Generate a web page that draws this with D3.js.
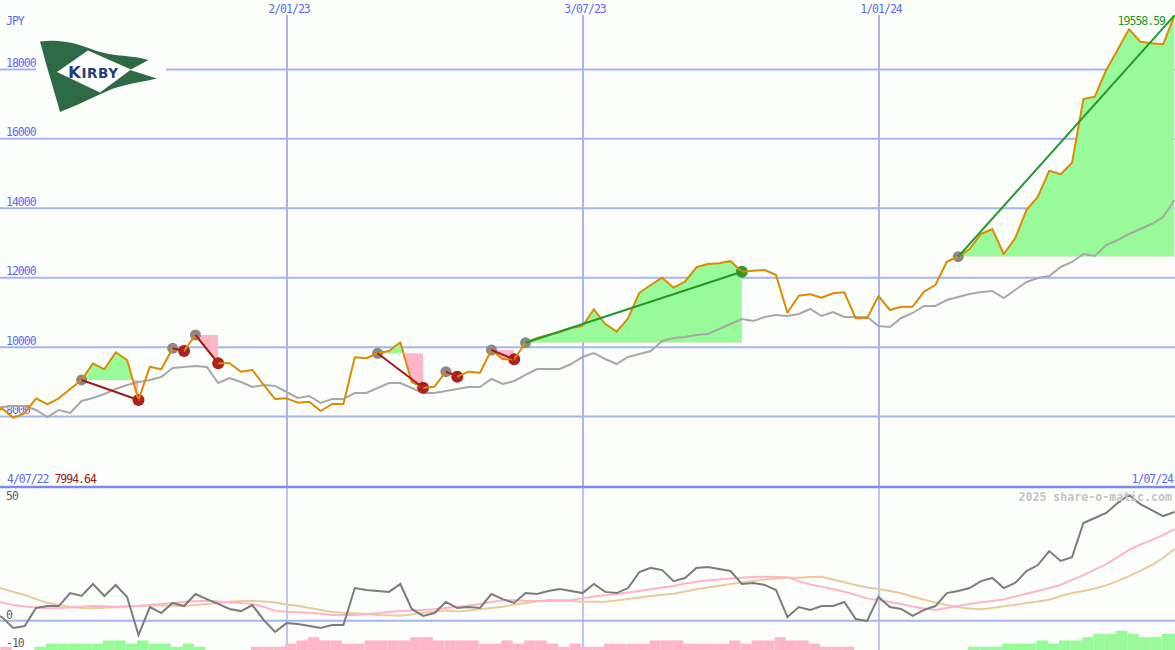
<!DOCTYPE html>
<html><head><meta charset="utf-8">
<script src="https://cdn.jsdelivr.net/npm/d3@7"></script>
<style>html,body{margin:0;padding:0;background:#fcfefc;} svg{display:block;} text{font-family:"DejaVu Sans Mono",monospace;}</style>
</head><body><svg id="c" width="1175" height="650"></svg>
<script>
// ---------- DATA ----------
const startDate = [2022, 6, 4];           // 4/07/22, weekly series
const endDate = [2024, 6, 1];             // 1/07/24
const priceValues = [7994.64,8238,7967,8094,8526,8354,8526,8794,9054,9535,
 9362,9852,9630,8477,9437,9362,9967,9889,10350,9947,
 9535,9535,9293,9342,8910,8506,8526,8400,8428,8161,
 8362,8362,9707,9679,9823,9889,10140,8996,8832,8861,
 9293,9149,9293,9264,9918,9650,9650,10128,10263,10350,
 10436,10552,10609,11090,10667,10445,10831,11568,11790,12001,
 11712,11885,12300,12395,12415,12482,12173,12202,12222,12078,
 10992,11482,11522,11424,11551,11580,10831,10831,11473,11070,
 11165,11165,11597,11790,12461,12605,12827,13259,13403,12683,
 13135,13951,14334,15083,14979,15313,17148,17215,17984,18560,
 19156,18799,18753,18724,19558.59];
const maValues = [8247,8276,8305,8305,8189,7988,8189,8103,8449,8535,
 8650,8794,8910,8996,9054,9140,9399,9428,9457,9428,
 8967,9111,8996,8852,8910,8881,8708,8535,8593,8391,
 8506,8506,8679,8679,8823,8967,8967,8823,8679,8679,
 8737,8794,8852,8852,9082,8938,9025,9198,9370,9370,
 9370,9514,9716,9831,9658,9514,9716,9803,9889,10177,
 10263,10292,10350,10379,10523,10667,10811,10753,10868,10926,
 10897,10955,11099,10897,11012,10868,10868,10868,10609,10580,
 10840,10984,11185,11185,11358,11445,11531,11589,11617,11416,
 11646,11877,11992,12049,12309,12453,12683,12626,12942,13087,
 13259,13403,13547,13749,14239];
const momValues = [3.6,1.5,-3.0,-2.2,5.3,6.1,6.1,11.5,10.3,15.3,
 10.3,14.9,9.9,-6.0,5.7,3.2,7.4,6.1,11.1,9.0,
 7.0,4.9,4.0,6.5,0.3,-4.7,-1.0,-1.4,-2.2,-3.0,
 -1.8,-1.8,13.6,12.8,12.4,12.0,15.3,4.9,2.0,3.2,
 7.8,5.3,5.7,5.3,11.1,9.0,7.4,11.5,11.1,12.4,
 13.2,12.4,11.5,15.3,12.0,11.5,13.6,20.3,22.0,21.1,
 16.5,17.8,22.0,22.4,21.5,20.7,15.3,15.7,14.9,12.8,
 1.5,5.7,4.5,6.1,6.1,7.8,0.7,-0.1,9.9,5.7,
 4.9,2.0,4.5,6.1,11.5,12.4,13.6,16.5,17.8,13.6,
 15.7,20.7,23.2,29.0,24.9,26.5,40.7,42.8,44.9,49.0,
 52.4,48.6,46.1,43.6,45.3];
const pinkValues = [8.2,7.6,6.5,5.9,5.5,5.2,5.3,5.5,5.8,6.1,
 6.0,5.8,6.0,6.1,6.5,7.0,7.4,7.9,8.1,8.3,
 8.0,7.6,7.4,7.0,5.7,4.2,3.7,3.5,3.3,2.9,
 2.4,2.4,2.4,2.7,3.1,3.6,4.0,4.3,4.5,4.75,
 5.3,5.8,6.3,7.0,7.8,8.5,8.5,8.3,8.2,8.2,
 8.4,8.6,9.3,10.1,10.6,11.1,11.75,12.4,13.1,13.8,
 14.5,15.5,16.2,16.8,17.2,17.6,17.9,18.2,18.3,18.2,
 18.1,16.5,15.1,14.2,13.2,12.1,10.7,9.3,8.5,7.8,
 7.0,5.9,5.1,4.5,5.3,6.1,7.0,7.7,8.2,8.8,
 10.1,11.25,12.4,13.6,14.9,17.0,19.0,21.3,23.6,26.5,
 29.5,31.75,33.6,35.7,38.2];
const tanValues = [14.9,13.4,12.0,10.7,9.0,7.5,6.5,5.7,5.3,5.2,
 5.4,5.6,5.8,6.1,6.3,6.4,6.25,6.1,6.5,7.0,
 7.4,7.9,8.2,8.3,8.0,7.6,6.75,6.25,5.3,4.5,
 3.6,3.3,3.1,2.8,2.4,2.25,2.1,2.6,3.3,3.75,
 4.2,3.8,4.25,4.75,5.3,5.8,6.7,7.4,8.0,8.6,
 8.4,8.2,7.9,7.9,7.9,8.4,9.0,9.7,10.3,10.8,
 11.25,12.2,13.1,13.8,14.6,15.3,15.9,16.5,17.2,17.6,
 17.9,17.9,18.2,18.3,17.2,16.0,14.9,13.8,13.2,12.4,
 11.4,10.1,8.75,7.6,6.5,5.6,5.1,4.75,5.3,6.0,
 6.6,7.4,8.0,8.75,10.3,11.5,12.4,13.4,14.7,16.5,
 18.6,20.9,23.2,26.1,29.9];
const histLevels = [-1,-1,0,0,1,2,2,2,2,2,
 3,3,2,3,2,2,1,2,1,0,
 0,0,0,-1,-1,-1,-2,-3,-4,-3,
 -3,-2,-2,-3,-3,-3,-3,-4,-4,-3,
 -3,-3,-3,-2,-2,-3,-2,-3,-3,-2,
 -1,-2,-1,-1,-2,-2,-2,-2,-3,-3,
 -3,-2,-2,-2,-2,-3,-2,-3,-3,-4,
 -3,-3,-2,-1,-1,-1,0,0,0,0,
 0,0,0,0,0,0,1,1,1,2,
 2,2,3,2,3,3,4,5,5,6,
 5,4,4,5,5];
const priceTicks = [8000,10000,12000,14000,16000,18000];
const momTicks = [50,0,-10];
const gridDates = [[2023,0,2],[2023,6,3],[2024,0,1]];
const gridLabels = ["2/01/23","3/07/23","1/01/24"];
const tradeEntries = [8,16,18,34,40,44,47,85];   // week index of buy
const tradeExits   = [13,17,20,38,41,46,66,104]; // week index of sell (last one still open)
const openTradeIndex = 7;
const startLabel = "4/07/22", startPrice = "7994.64", endLabel = "1/07/24", lastPrice = "19558.59";

// ---------- SCALES ----------
const svg = d3.select("#c");
const W = 1175, H = 650;
const BG = "#fcfefc";
const dates = priceValues.map((_, i) => d3.timeDay.offset(new Date(...startDate), 7 * i));
const x = d3.scaleTime().domain([new Date(...startDate), new Date(...endDate)]).range([-9.5, 1174.5]);
const y = d3.scaleLinear().domain([6000, 20000]).range([486, 0]);
const ym = d3.scaleLinear().domain([-10, 50]).range([644.7, 500.7]);
const yh = d3.scaleLinear().domain([0, 6]).range([650, 630.8]);

const BLUE = "#5a6cf0", GRID = "#a6b4f2";
const FS = 11.5, LS = -1.0;
svg.append("rect").attr("width", W).attr("height", H).attr("fill", BG);
const defs = svg.append("defs");

// ---------- GRID ----------
gridDates.forEach((g, k) => {
  const gx = Math.round(x(new Date(...g)));
  svg.append("line").attr("x1", gx).attr("x2", gx).attr("y1", 15).attr("y2", 487)
    .attr("stroke", GRID).attr("stroke-width", 2);
  svg.append("line").attr("x1", gx).attr("x2", gx).attr("y1", 487).attr("y2", 650)
    .attr("stroke", GRID).attr("stroke-width", 1.5);
  svg.append("text").attr("x", gx + 2).attr("y", 13).attr("text-anchor", "middle")
    .attr("font-size", FS).attr("letter-spacing", LS).attr("fill", BLUE).text(gridLabels[k]);
});
priceTicks.forEach(t => {
  svg.append("line").attr("x1", 0).attr("x2", W).attr("y1", y(t)).attr("y2", y(t))
    .attr("stroke", GRID).attr("stroke-width", 2);
});

// ---------- LOGO ----------
const logo = svg.append("g");
logo.append("rect").attr("x", 36).attr("y", 37).attr("width", 130).attr("height", 78).attr("fill", BG);
logo.append("path").attr("fill", "#2f6a47")
  .attr("d", "M40,41.5 C52,40 68,41 84,46.5 C96,51 106,54 116,55 C125,56 138,57 148.5,60 L130,70 L157,78.5 C150,80 146,81 140,82 C130,84 120,86 112,89 C100,94 88,100 77,105 C70,108 64,110 60,112 C54,90 46,65 40,41.5 Z");
logo.append("path").attr("fill", "#ffffff").attr("d", "M57,72 L88,50.5 L131,69.5 L100,92.5 Z");
const kt = logo.append("text").attr("x", 68).attr("y", 77.5).attr("fill", "#1f3f7a")
  .attr("font-weight", "bold").attr("letter-spacing", 0.6)
  .style("font-family", "DejaVu Sans");
kt.append("tspan").attr("font-size", 16.5).text("K");
kt.append("tspan").attr("font-size", 13.5).text("IRBY");

// ---------- AXIS LABELS (main) ----------
svg.append("text").attr("x", 6).attr("y", 25).attr("font-size", FS).attr("letter-spacing", LS)
  .attr("fill", BLUE).text("JPY");
priceTicks.forEach(t => {
  svg.append("text").attr("x", 6).attr("y", y(t) - 2.5).attr("font-size", FS).attr("letter-spacing", LS)
    .attr("fill", BLUE).text(t);
});

// ---------- TRADE FILLS ----------
tradeEntries.forEach((e, k) => {
  const xEnd = tradeExits[k];
  const seg = d3.range(e, xEnd + 1).map(i => ({ d: dates[i], v: priceValues[i] }));
  const ey = y(priceValues[e]);
  const x0 = x(dates[e]), x1 = x(dates[xEnd]);
  defs.append("clipPath").attr("id", "up" + k).append("rect")
    .attr("x", x0).attr("y", 0).attr("width", x1 - x0).attr("height", ey);
  defs.append("clipPath").attr("id", "dn" + k).append("rect")
    .attr("x", x0).attr("y", ey).attr("width", x1 - x0).attr("height", 487 - ey);
  const area = d3.area().x(d => x(d.d)).y0(ey).y1(d => y(d.v));
  svg.append("path").datum(seg).attr("d", area).attr("fill", "#98fa98").attr("clip-path", `url(#up${k})`);
  svg.append("path").datum(seg).attr("d", area).attr("fill", "#ffb6c8").attr("clip-path", `url(#dn${k})`);
});

// ---------- LINES (main) ----------
const lineP = d3.line().x((d, i) => x(dates[i])).y(d => y(d));
svg.append("path").datum(maValues).attr("d", lineP).attr("fill", "none")
  .attr("stroke", "#a8a8a8").attr("stroke-width", 2);

// dots
tradeEntries.forEach((e, k) => {
  const xi = tradeExits[k];
  svg.append("circle").attr("cx", x(dates[e])).attr("cy", y(priceValues[e])).attr("r", 5.5).attr("fill", "#8a8a8a");
  if (k !== openTradeIndex) {
    const gain = priceValues[xi] >= priceValues[e];
    svg.append("circle").attr("cx", x(dates[xi])).attr("cy", y(priceValues[xi])).attr("r", 6)
      .attr("fill", gain ? "#2e9a2e" : "#ad2020");
  }
});

svg.append("path").datum(priceValues).attr("d", lineP).attr("fill", "none")
  .attr("stroke", "#dc8c00").attr("stroke-width", 2).attr("stroke-linejoin", "round");

tradeEntries.forEach((e, k) => {
  const xi = tradeExits[k];
  const gain = priceValues[xi] >= priceValues[e];
  svg.append("line").attr("x1", x(dates[e])).attr("y1", y(priceValues[e]))
    .attr("x2", x(dates[xi])).attr("y2", y(priceValues[xi]))
    .attr("stroke", gain ? "#22992a" : "#a01c1c").attr("stroke-width", 2);
});

// labels in main panel
svg.append("text").attr("x", 1165).attr("y", 25).attr("text-anchor", "end").attr("font-size", FS)
  .attr("letter-spacing", LS).attr("fill", "#229922").text(lastPrice);
const sl = svg.append("text").attr("x", 7).attr("y", 483).attr("font-size", FS).attr("letter-spacing", LS);
sl.append("tspan").attr("fill", BLUE).text(startLabel + " ");
sl.append("tspan").attr("fill", "#a01818").text(startPrice);
svg.append("text").attr("x", 1173).attr("y", 483).attr("text-anchor", "end").attr("font-size", FS)
  .attr("letter-spacing", LS).attr("fill", BLUE).text(endLabel);

// ---------- BOTTOM PANEL ----------
svg.append("line").attr("x1", 0).attr("x2", W).attr("y1", 487).attr("y2", 487)
  .attr("stroke", "#7b8cec").attr("stroke-width", 2.5);
svg.append("line").attr("x1", 0).attr("x2", W).attr("y1", ym(0)).attr("y2", ym(0))
  .attr("stroke", GRID).attr("stroke-width", 2);

// histogram
histLevels.forEach((v, i) => {
  if (v === 0) return;
  const xa = x(dates[i]) - 1.5;
  const xb = x(d3.timeDay.offset(dates[i], 7)) - 1.5;
  svg.append("rect").attr("x", xa).attr("width", xb - xa).attr("y", yh(Math.abs(v)))
    .attr("height", 650 - yh(Math.abs(v))).attr("fill", v > 0 ? "#98fa98" : "#ffb6c8");
});

const lineM = d3.line().x((d, i) => x(dates[i])).y(d => ym(d));
svg.append("path").datum(tanValues).attr("d", lineM).attr("fill", "none")
  .attr("stroke", "#e8cc9c").attr("stroke-width", 2);
svg.append("path").datum(pinkValues).attr("d", lineM).attr("fill", "none")
  .attr("stroke", "#ffb4c8").attr("stroke-width", 2);
svg.append("path").datum(momValues).attr("d", lineM).attr("fill", "none")
  .attr("stroke", "#7c7c7c").attr("stroke-width", 2);

const mLabelY = { "50": 499.5, "0": 618.5, "-10": 646.5 };
momTicks.forEach(t => {
  svg.append("text").attr("x", 6).attr("y", mLabelY[String(t)]).attr("font-size", FS)
    .attr("letter-spacing", LS).attr("fill", "#606060").text(t);
});
svg.append("text").attr("x", 1172).attr("y", 500.5).attr("text-anchor", "end").attr("font-size", 11.6)
  .attr("font-weight", "bold").attr("fill", "#c4c4c4").text("2025 share-o-matic.com");
</script></body></html>
